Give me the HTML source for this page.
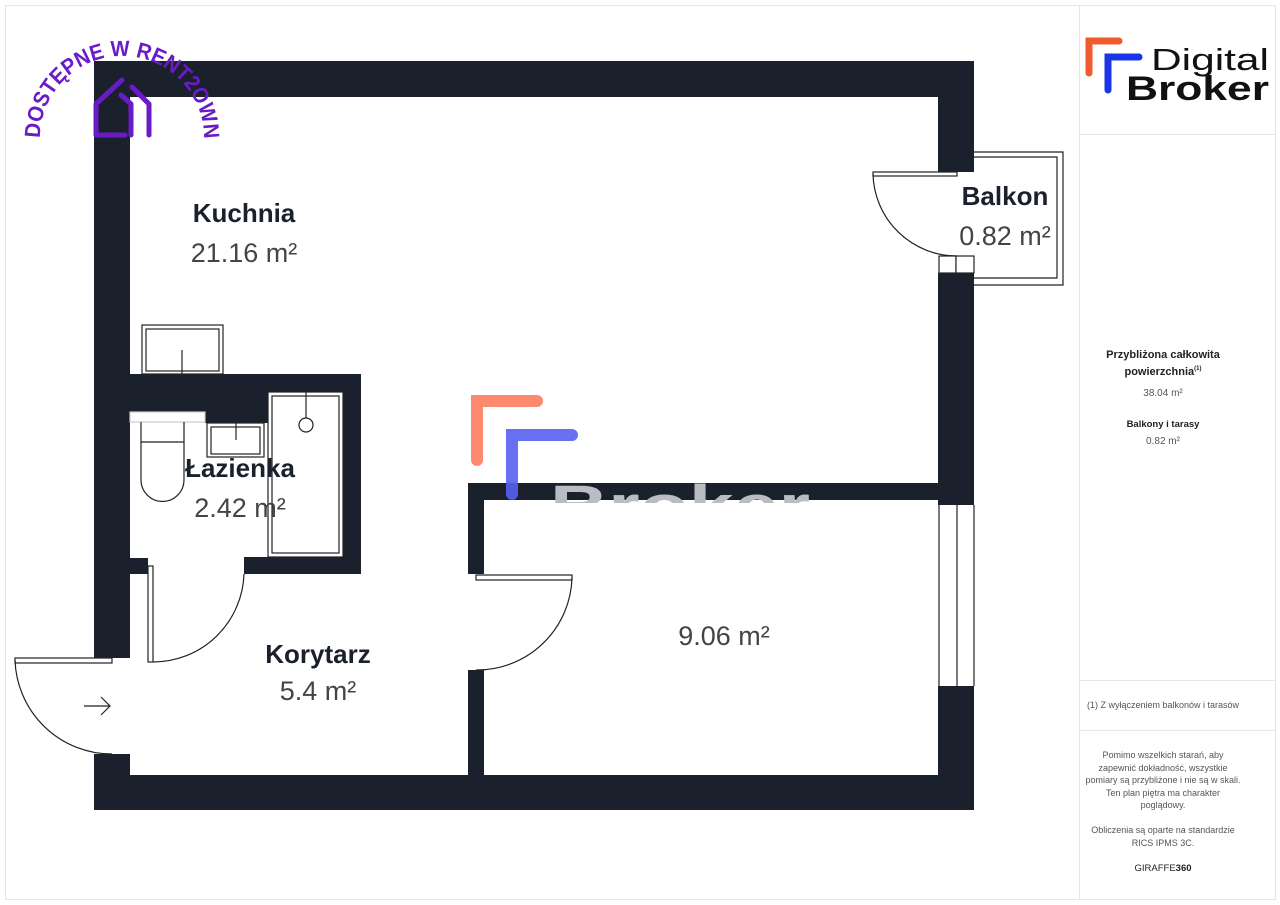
<!DOCTYPE html>
<html><head><meta charset="utf-8"><style>
html,body{margin:0;padding:0;background:#fff;}
svg{display:block}
text{font-family:"Liberation Sans","DejaVu Sans",sans-serif}
</style></head><body>
<svg width="1280" height="905" viewBox="0 0 1280 905" xmlns="http://www.w3.org/2000/svg">
<defs>
<clipPath id="wc"><rect x="484" y="483" width="454" height="20"/></clipPath>
<path id="arc" d="M40 138 A82 82 0 0 1 204 138"/>
</defs>
<rect x="5.5" y="5.5" width="1270" height="894" fill="#fff" stroke="#e6e6e6"/>
<line x1="1079.5" y1="5" x2="1079.5" y2="900" stroke="#e6e6e6"/>
<line x1="1080" y1="134.5" x2="1275" y2="134.5" stroke="#e6e6e6"/>
<line x1="1080" y1="680.5" x2="1275" y2="680.5" stroke="#e6e6e6"/>
<line x1="1080" y1="730.5" x2="1275" y2="730.5" stroke="#e6e6e6"/>

<path d="M477 460 V401 H537" fill="none" stroke="#fd8a6e" stroke-width="12" stroke-linecap="round"/>

<g fill="#1b212c">
<rect x="94" y="61" width="880" height="36"/>
<rect x="94" y="775" width="880" height="35"/>
<rect x="94" y="61" width="36" height="597"/>
<rect x="94" y="754" width="36" height="56"/>
<rect x="938" y="61" width="36" height="111"/>
<rect x="938" y="273" width="36" height="232"/>
<rect x="938" y="686" width="36" height="124"/>
<path d="M130 374 H361 V574 H244 V557 H343 V392 H268 V423 H205 V412 H130 Z"/>
<rect x="130" y="558" width="18" height="16"/>
<rect x="468" y="483" width="470" height="17"/>
<rect x="468" y="483" width="16" height="91"/>
<rect x="468" y="670" width="16" height="105"/>
</g>
<text x="550" y="526" font-size="58" font-weight="bold" fill="#b9bdc3" clip-path="url(#wc)" textLength="260" lengthAdjust="spacingAndGlyphs">Broker</text>
<path d="M512 494 V435 H572" fill="none" stroke="#5660f0" stroke-width="12" stroke-linecap="round" opacity="0.9"/>

<g fill="none" stroke="#222" stroke-width="1.2">
<rect x="939" y="256" width="17" height="17" fill="#fff"/>
<rect x="956" y="256" width="18" height="17" fill="#fff"/>
<rect x="939" y="505" width="35" height="181" fill="#fff" stroke="none"/>
<line x1="939" y1="505" x2="939" y2="686"/><line x1="957" y1="505" x2="957" y2="686"/><line x1="974" y1="505" x2="974" y2="686"/>
<path d="M974 152 H1063 V285 H974"/>
<path d="M974 157 H1057 V278 H974"/>
<rect x="873" y="172" width="84" height="4"/>
<path d="M873 174 A84 84 0 0 0 957 256"/>
<rect x="142" y="325" width="81" height="49"/>
<rect x="146" y="329" width="73" height="42"/>
<line x1="182" y1="350" x2="182" y2="374"/>
<rect x="268" y="392" width="75" height="165" fill="#fff"/>
<rect x="272" y="396" width="67" height="157"/>
<circle cx="306" cy="425" r="7"/>
<line x1="306" y1="392" x2="306" y2="418"/>
<rect x="207" y="423" width="57" height="34"/>
<rect x="211" y="427" width="49" height="27"/>
<line x1="236" y1="423" x2="236" y2="440"/>
<rect x="130" y="412" width="75" height="10" stroke="#ccc" fill="#fff"/>
<path d="M141 422 V442 H184 V422"/>
<path d="M141 442 V480 A21.5 21.5 0 0 0 184 480 V442"/>
<rect x="148" y="566" width="5" height="96"/>
<path d="M153 662 A91 91 0 0 0 244 574"/>
<rect x="15" y="658" width="97" height="5"/>
<path d="M15 660 A97 97 0 0 0 112 754"/>
<path d="M84 706 H110 M101 697 L110 706 L101 715"/>
<rect x="476" y="575" width="96" height="5"/>
<path d="M572 578 A95 95 0 0 1 476 670"/>
</g>

<g fill="#1b212c" font-weight="bold" font-size="26" text-anchor="middle">
<text x="244" y="222">Kuchnia</text>
<text x="240" y="477">Łazienka</text>
<text x="318" y="663">Korytarz</text>
<text x="1005" y="205">Balkon</text>
</g>
<g fill="#444" font-size="27" text-anchor="middle">
<text x="244" y="262">21.16 m²</text>
<text x="240" y="517">2.42 m²</text>
<text x="318" y="700">5.4 m²</text>
<text x="724" y="645">9.06 m²</text>
<text x="1005" y="245">0.82 m²</text>
</g>

<text font-size="22" font-weight="bold" fill="#6a1bc8"><textPath href="#arc" textLength="258" lengthAdjust="spacingAndGlyphs">DOSTĘPNE W RENT2OWN</textPath></text>
<g fill="none" stroke="#6a1bc8" stroke-width="5" stroke-linecap="round" stroke-linejoin="round">
<path d="M122 80 L96 104 V135 H125"/>
<path d="M121 95 L131 104 V135"/>
<path d="M132 87 L149 104 V135"/>
</g>

<path d="M1089 73 V41 H1119" fill="none" stroke="#f15a2c" stroke-width="7" stroke-linecap="round"/>
<path d="M1108 90 V57 H1139" fill="none" stroke="#1a35e8" stroke-width="7" stroke-linecap="round"/>
<text x="1151" y="70" font-size="31" fill="#111" textLength="118" lengthAdjust="spacingAndGlyphs">Digital</text>
<text x="1126" y="100" font-size="34" font-weight="bold" fill="#111" textLength="143" lengthAdjust="spacingAndGlyphs">Broker</text>

<g text-anchor="middle" fill="#222">
<text x="1163" y="358" font-size="11" font-weight="bold">Przybliżona całkowita</text>
<text x="1163" y="375" font-size="11" font-weight="bold">powierzchnia<tspan font-size="6" dy="-5">(1)</tspan></text>
<text x="1163" y="396" font-size="10" fill="#555">38.04 m²</text>
<text x="1163" y="427" font-size="9.5" font-weight="bold">Balkony i tarasy</text>
<text x="1163" y="444" font-size="10" fill="#555">0.82 m²</text>
<g font-size="9" fill="#555">
<text x="1163" y="708">(1) Z wyłączeniem balkonów i tarasów</text>
<text x="1163" y="758">Pomimo wszelkich starań, aby</text>
<text x="1163" y="771">zapewnić dokładność, wszystkie</text>
<text x="1163" y="783">pomiary są przybliżone i nie są w skali.</text>
<text x="1163" y="796">Ten plan piętra ma charakter</text>
<text x="1163" y="808">poglądowy.</text>
<text x="1163" y="833">Obliczenia są oparte na standardzie</text>
<text x="1163" y="846">RICS IPMS 3C.</text>
</g>
<text x="1163" y="871" font-size="9.5" fill="#222">GIRAFFE<tspan font-weight="bold">360</tspan></text>
</g>
</svg>
</body></html>
